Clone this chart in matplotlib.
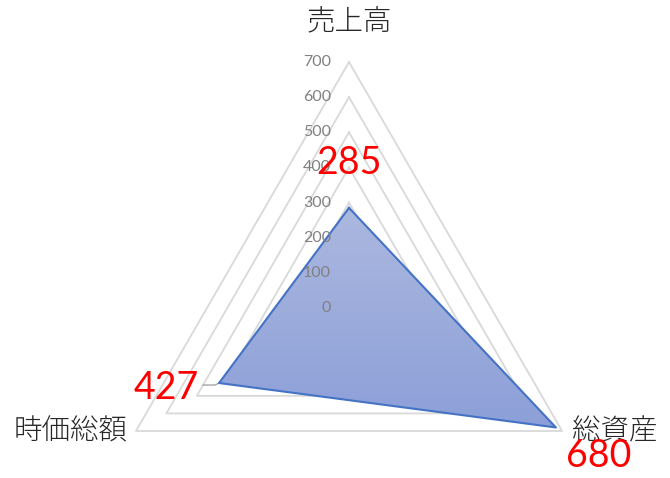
import numpy as np
import matplotlib.pyplot as plt
from matplotlib.patches import Polygon
from matplotlib.colors import LinearSegmentedColormap

plt.rcParams['font.family'] = ['Noto Sans CJK JP', 'DejaVu Sans']

# データ
categories = ['売上高', '総資産', '時価総額']
values = [285, 680, 427]
ticks = [0, 100, 200, 300, 400, 500, 600, 700]
rmax = 700

# 角度 (上から時計回り)
angles = np.deg2rad([90, -30, 210])

def xy(r, a):
    return r * np.cos(a), r * np.sin(a)

fig = plt.figure(figsize=(6.7, 4.78), dpi=100)
ax = fig.add_axes([0, 0, 1, 1])
scale = 246 / rmax  # px per unit
ax.axis('off')

## グリッド
for t in ticks[1:]:
    gx, gy = xy(t, angles)
    ax.plot(np.append(gx, gx[0]), np.append(gy, gy[0]), color='#d9d9d9', lw=1.3, zorder=1)

## データ領域 (グラデーション)
px, py = xy(np.array(values), angles)
poly = Polygon(np.column_stack([px, py]), closed=True, fc='none', ec='none')
ax.add_patch(poly)
cmap = LinearSegmentedColormap.from_list('g', ['#8c9fd8', '#abb8df'])
grad = np.linspace(0, 1, 256).reshape(-1, 1)
im = ax.imshow(grad, extent=[px.min(), px.max(), py.min(), py.max()], origin='lower',
               cmap=cmap, aspect='auto', zorder=2)
im.set_clip_path(poly)
ax.plot(np.append(px, px[0]), np.append(py, py[0]), color='#4472c4', lw=1.5, zorder=3)
ax.set_xlim(-349 / scale, (670 - 349) / scale)
ax.set_ylim(-(478 - 308) / scale, 308 / scale)

## 目盛りラベル
for t in ticks:
    ax.text(-18 / scale, t, str(t), ha='right', va='center', fontsize=11.5,
            family=['Lato', 'DejaVu Sans'], color='#808080', zorder=4)

## 軸ラベル
kw = dict(va='center', fontsize=20.5, color='#262626', fontweight='light')
ax.text(0, rmax + 40 / scale, categories[0], ha='center', **kw)
bx, by = xy(rmax, angles[1])
ax.text(bx + 10 / scale, by, categories[1], ha='left', **kw)
lx, ly = xy(rmax, angles[2])
ax.text(lx - 8 / scale, ly, categories[2], ha='right', **kw)

## 値ラベル
vkw = dict(ha='center', va='center', fontsize=27, color='red', zorder=5, family=['Lato', 'DejaVu Sans'])
ax.text(px[0], py[0] + 45 / scale, str(values[0]), **vkw)
ax.text(px[1] + 43 / scale, py[1] - 29 / scale, str(values[1]), **vkw)
ax.text(px[2] - 53 / scale, py[2] - 5 / scale, str(values[2]), **vkw)
ax.plot([px[2] - 16 / scale, px[2] - 4 / scale, px[2]],
        [py[2] - 2 / scale, py[2] - 2 / scale, py[2]], color='#a6a6a6', lw=1, zorder=2)

plt.savefig('out.png', dpi=100)
